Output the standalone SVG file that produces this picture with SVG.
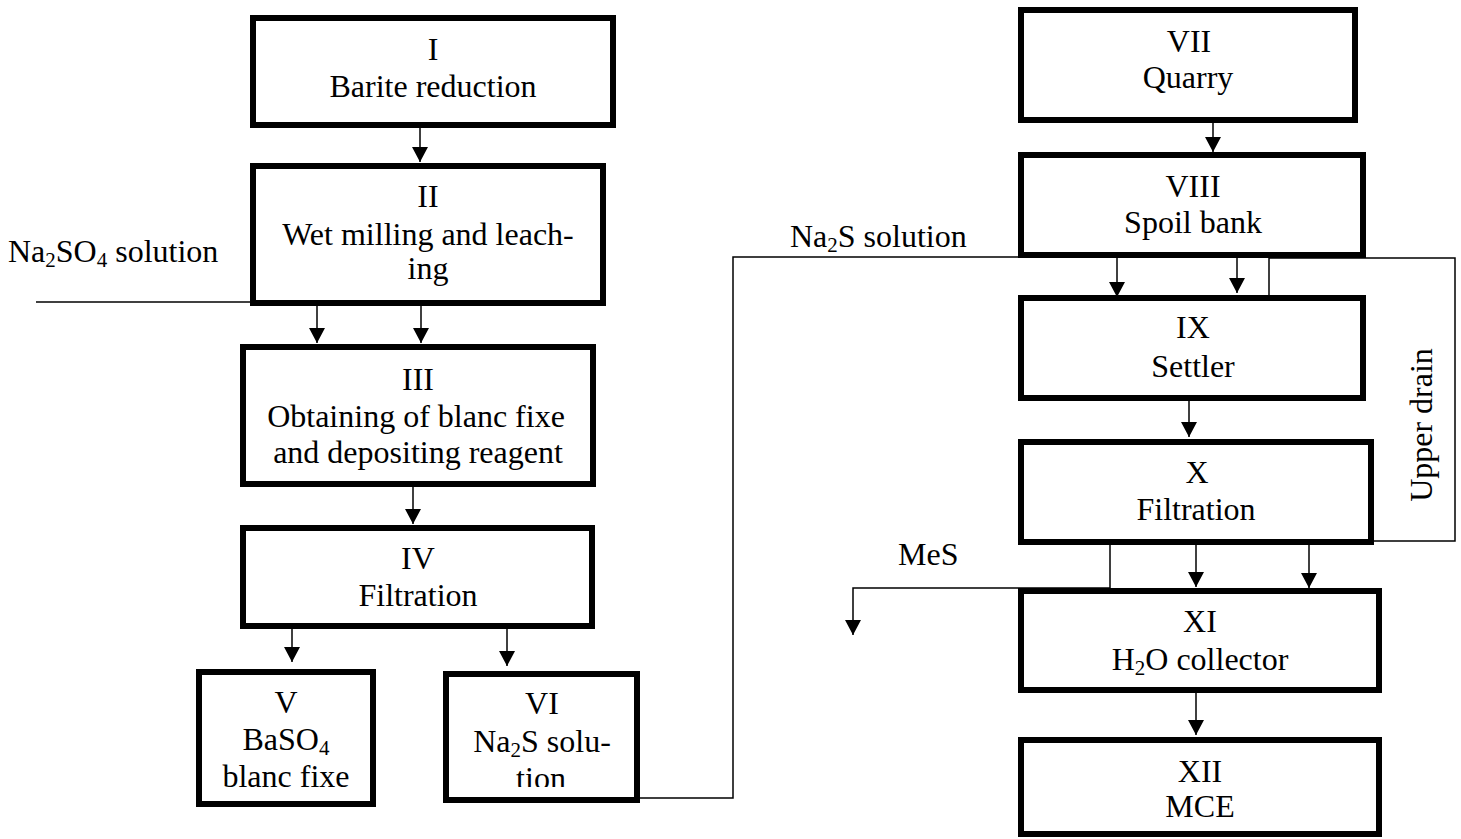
<svg xmlns="http://www.w3.org/2000/svg" width="1461" height="839" viewBox="0 0 1461 839">
<style>
.box{fill:#fff;stroke:#000;stroke-width:6}
.t{font-family:"Liberation Serif","Times New Roman",serif;font-size:32px;fill:#000;text-anchor:middle}
.l{font-family:"Liberation Serif","Times New Roman",serif;font-size:32px;fill:#000}
.c{fill:none;stroke:#000;stroke-width:1.5}
</style>
<defs>
<marker id="ah" markerUnits="userSpaceOnUse" markerWidth="16" markerHeight="16" refX="15" refY="8" orient="auto">
<path d="M0,0 L15,8 L0,16 z" fill="#000"/>
</marker>
<clipPath id="clipVI"><rect x="446" y="674" width="191" height="113"/></clipPath>
</defs>
<rect width="1461" height="839" fill="#fff"/>
<g id="connectors">
<path class="c" d="M36,302 H250"/>
<path class="c" d="M640,798 H733 V257 H1018"/>
<path class="c" d="M1374,541 H1455 V258 H1269 V295"/>
<path class="c" d="M1110,545 V588 H853 V635" marker-end="url(#ah)"/>
<path class="c" d="M420,128 V162" marker-end="url(#ah)"/>
<path class="c" d="M317,306 V343" marker-end="url(#ah)"/>
<path class="c" d="M421,306 V343" marker-end="url(#ah)"/>
<path class="c" d="M413,487 V524" marker-end="url(#ah)"/>
<path class="c" d="M292,626 V662" marker-end="url(#ah)"/>
<path class="c" d="M507,629 V666" marker-end="url(#ah)"/>
<path class="c" d="M1213,123 V152" marker-end="url(#ah)"/>
<path class="c" d="M1117,252 V297" marker-end="url(#ah)"/>
<path class="c" d="M1237,258 V293" marker-end="url(#ah)"/>
<path class="c" d="M1189,401 V437" marker-end="url(#ah)"/>
<path class="c" d="M1196,545 V587" marker-end="url(#ah)"/>
<path class="c" d="M1309,545 V588" marker-end="url(#ah)"/>
<path class="c" d="M1196,693 V735" marker-end="url(#ah)"/>
<text class="l" x="8" y="262">Na<tspan font-size="21" dy="5">2</tspan><tspan dy="-5">SO</tspan><tspan font-size="21" dy="5">4</tspan><tspan dy="-5"> solution</tspan></text>
<text class="l" x="790" y="247">Na<tspan font-size="21" dy="5">2</tspan><tspan dy="-5">S solution</tspan></text>
<text class="l" x="898" y="565">MeS</text>
<text class="t" transform="translate(1432,425) rotate(-90)" x="0" y="0">Upper drain</text>
</g>
<g id="n1"><rect class="box" x="253" y="18" width="360" height="107"/>
<text class="t" x="433" y="60">I</text><text class="t" x="433" y="97">Barite reduction</text></g>
<g id="n2"><rect class="box" x="253" y="166" width="350" height="137"/>
<text class="t" x="428" y="207">II</text><text class="t" x="428" y="245">Wet milling and leach-</text><text class="t" x="428" y="279">ing</text></g>
<g id="n3"><rect class="box" x="243" y="347" width="350" height="137"/>
<text class="t" x="418" y="390">III</text><text class="t" x="416" y="427">Obtaining of blanc fixe</text><text class="t" x="418" y="463">and depositing reagent</text></g>
<g id="n4"><rect class="box" x="243" y="528" width="349" height="98"/>
<text class="t" x="418" y="569">IV</text><text class="t" x="418" y="606">Filtration</text></g>
<g id="n5"><rect class="box" x="199" y="672" width="174" height="132"/>
<text class="t" x="286" y="713">V</text><text class="t" x="286" y="750">BaSO<tspan font-size="21" dy="5">4</tspan></text><text class="t" x="286" y="787">blanc fixe</text></g>
<g id="n6"><rect class="box" x="446" y="674" width="191" height="126"/>
<text class="t" x="542" y="714">VI</text><text class="t" x="542" y="752">Na<tspan font-size="21" dy="5">2</tspan><tspan dy="-5">S solu-</tspan></text>
<text class="t" x="541" y="789" clip-path="url(#clipVI)">tion</text></g>
<g id="n7"><rect class="box" x="1021" y="10" width="334" height="110"/>
<text class="t" x="1189" y="52">VII</text><text class="t" x="1188" y="88">Quarry</text></g>
<g id="n8"><rect class="box" x="1021" y="155" width="342" height="100"/>
<text class="t" x="1193" y="197">VIII</text><text class="t" x="1193" y="233">Spoil bank</text></g>
<g id="n9"><rect class="box" x="1021" y="298" width="342" height="100"/>
<text class="t" x="1193" y="338">IX</text><text class="t" x="1193" y="377">Settler</text></g>
<g id="n10"><rect class="box" x="1021" y="442" width="350" height="100"/>
<text class="t" x="1197" y="483">X</text><text class="t" x="1196" y="520">Filtration</text></g>
<g id="n11"><rect class="box" x="1021" y="591" width="358" height="99"/>
<text class="t" x="1200" y="632">XI</text><text class="t" x="1200" y="670">H<tspan font-size="21" dy="5">2</tspan><tspan dy="-5">O collector</tspan></text></g>
<g id="n12"><rect class="box" x="1021" y="740" width="358" height="94"/>
<text class="t" x="1200" y="782">XII</text><text class="t" x="1200" y="817">MCE</text></g>
</svg>
